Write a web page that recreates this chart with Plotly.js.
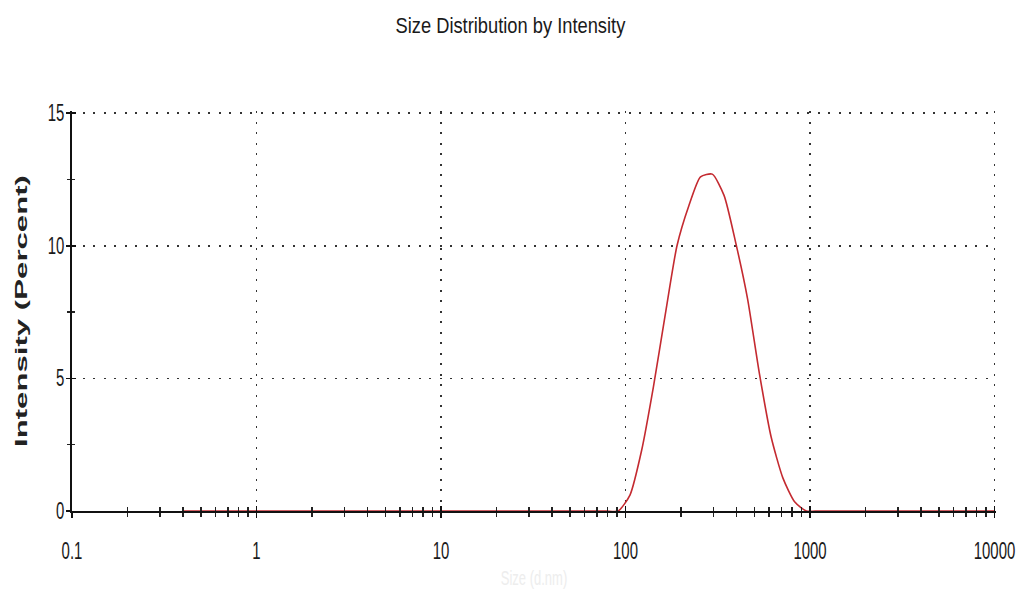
<!DOCTYPE html>
<html>
<head>
<meta charset="utf-8">
<script src="https://cdn.plot.ly/plotly-3.0.1.min.js"></script>
<style>
  html, body { margin: 0; padding: 0; background: #ffffff; }
  #chart { width: 1027px; height: 600px; }
</style>
</head>
<body>
<div id="chart"></div>
<script>
// Size classes (d.nm) of the intensity distribution
const sizeNm = [
  0.4, 0.4632, 0.5365, 0.6213, 0.7195, 0.8332, 0.9649, 1.117, 1.294, 1.499,
  1.736, 2.01, 2.328, 2.696, 3.122, 3.615, 4.187, 4.849, 5.615, 6.503,
  7.531, 8.721, 10.1, 11.7, 13.54, 15.69, 18.17, 21.04, 24.36, 28.21,
  32.67, 37.84, 43.82, 50.75, 58.77, 68.06, 78.82, 91.28, 105.7, 122.4,
  141.8, 164.2, 190.1, 220.2, 255.0, 295.3, 342.0, 396.1, 458.7, 531.2,
  615.1, 712.4, 825.0, 955.4, 1106, 1281, 1484, 1718, 1990, 2305,
  2669, 3091, 3580, 4145, 4801, 5560, 6439, 7456, 8635, 10000
];

// Intensity (percent) in each size class
const intensityPct = [
  0, 0, 0, 0, 0, 0, 0, 0, 0, 0,
  0, 0, 0, 0, 0, 0, 0, 0, 0, 0,
  0, 0, 0, 0, 0, 0, 0, 0, 0, 0,
  0, 0, 0, 0, 0, 0, 0, 0, 0.6, 2.3,
  4.7, 7.4, 10.0, 11.5, 12.6, 12.7, 11.9, 10.1, 8.0, 5.2,
  2.8, 1.25, 0.35, 0, 0, 0, 0, 0, 0, 0,
  0, 0, 0, 0, 0, 0, 0, 0, 0, 0
];

const xTickVals = [0.1, 1, 10, 100, 1000, 10000];
const xTickText = ['0.1', '1', '10', '100', '1000', '10000'];
const yTickVals = [0, 5, 10, 15];
const yTickText = ['0', '5', '10', '15'];

const chartTitle = 'Size Distribution by Intensity';
const xTitle = 'Size (d.nm)';
const yTitle = 'Intensity (Percent)';

const sans = '"Liberation Sans", Arial, sans-serif';

const traces = [
  {
    x: sizeNm,
    y: intensityPct,
    type: 'scatter',
    mode: 'lines',
    line: { color: '#c42a30', width: 1.6, shape: 'spline', smoothing: 0.6 },
    hoverinfo: 'x+y',
    showlegend: false
  },
  // carries the secondary axes that draw the inner half of each tick
  { x: [], y: [], xaxis: 'x2', yaxis: 'y2', type: 'scatter', mode: 'lines', showlegend: false }
];

// ranges end just past the last decade / 15 % so the closing grid lines are drawn
const xRange = [-1, 4.008];
const yRange = [0, 15.08];

const tickCommonX = {
  type: 'log',
  range: xRange,
  tickmode: 'array',
  tickvals: xTickVals,
  ticklen: 5,
  tickwidth: 1.5,
  tickcolor: '#111',
  minor: { dtick: 'D1', ticklen: 4, tickwidth: 1.3, tickcolor: '#222', showgrid: false }
};

const layout = {
  width: 1027,
  height: 600,
  paper_bgcolor: '#ffffff',
  plot_bgcolor: '#ffffff',
  margin: { l: 72, r: 31, t: 111, b: 89 },
  showlegend: false,
  title: {
    text: chartTitle,
    x: 0.497,
    xref: 'container',
    xanchor: 'center',
    y: 0.958,
    yref: 'container',
    yanchor: 'middle',
    font: { family: sans, size: 22, color: '#1a1a1a' }
  },
  xaxis: Object.assign({}, tickCommonX, {
    ticks: 'outside',
    ticktext: xTickText,
    showticklabels: true,
    ticklabelstandoff: 13,
    tickfont: { family: sans, size: 23, color: '#1a1a1a' },
    showline: true,
    linecolor: '#111',
    linewidth: 2,
    showgrid: true,
    gridcolor: '#333',
    gridwidth: 1.5,
    griddash: '2px,8.5px',
    zeroline: false,
    minor: Object.assign({}, tickCommonX.minor, { ticks: 'outside' }),
    title: { text: xTitle, standoff: 8, font: { family: sans, size: 20, color: '#ededed' } }
  }),
  xaxis2: Object.assign({}, tickCommonX, {
    overlaying: 'x',
    anchor: 'y',
    side: 'bottom',
    ticks: 'inside',
    showticklabels: false,
    showline: false,
    showgrid: false,
    zeroline: false,
    minor: Object.assign({}, tickCommonX.minor, { ticks: 'inside' })
  }),
  yaxis: {
    range: yRange,
    tickmode: 'array',
    tickvals: yTickVals,
    ticktext: yTickText,
    ticks: 'outside',
    ticklen: 4,
    tickwidth: 1.5,
    tickcolor: '#111',
    ticklabelstandoff: -3,
    tickfont: { family: sans, size: 23, color: '#1a1a1a' },
    showline: true,
    linecolor: '#111',
    linewidth: 2,
    showgrid: true,
    gridcolor: '#333',
    gridwidth: 1.5,
    griddash: '2px,8.5px',
    zeroline: false,
    minor: { dtick: 2.5, ticks: 'outside', ticklen: 3, tickwidth: 1.3, tickcolor: '#222', showgrid: false },
    title: {
      text: yTitle,
      standoff: 7,
      font: { family: sans, size: 17, color: '#222', weight: 'bold' }
    }
  },
  yaxis2: {
    overlaying: 'y',
    anchor: 'x',
    side: 'left',
    range: yRange,
    tickmode: 'array',
    tickvals: yTickVals,
    ticks: 'inside',
    ticklen: 4,
    tickwidth: 1.5,
    tickcolor: '#111',
    showticklabels: false,
    showline: false,
    showgrid: false,
    zeroline: false,
    minor: { dtick: 2.5, ticks: 'inside', ticklen: 3, tickwidth: 1.3, tickcolor: '#222', showgrid: false }
  }
};

// Condense (or stretch) text along its baseline about its own anchor point.
function scaleText(selector, factor, target) {
  document.querySelectorAll(selector).forEach(function (el) {
    const natural = el.getComputedTextLength();
    if (!natural) return;
    const s = target ? target / natural : factor;
    const x = parseFloat(el.getAttribute('x')) || 0;
    const y = parseFloat(el.getAttribute('y')) || 0;
    const t = el.getAttribute('transform') || '';
    el.setAttribute('transform',
      (t + ' translate(' + x + ',' + y + ') scale(' + s.toFixed(4) + ',1) translate(' + (-x) + ',' + (-y) + ')').trim());
  });
}

Plotly.newPlot('chart', traces, layout, { displayModeBar: false, staticPlot: true }).then(function () {
  scaleText('.xtick text', 0.65);
  scaleText('.ytick text', 0.65);
  scaleText('.gtitle', 0, 230);
  scaleText('.g-xtitle text', 0.65);
  scaleText('.g-ytitle text', 0, 272);
});
</script>
</body>
</html>
